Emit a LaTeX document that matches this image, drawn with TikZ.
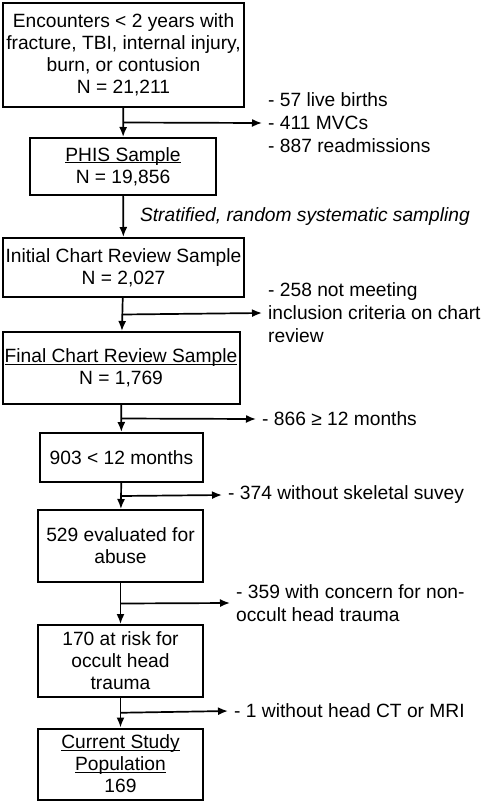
\documentclass[tikz,border=0pt]{standalone}
\usepackage{fontspec}
\setmainfont{Liberation Sans}
\usetikzlibrary{arrows.meta, calc, positioning}
\newcommand{\ulbl}[1]{\underline{\smash{#1}}\vphantom{#1}}

\tikzset{
  box/.style={draw, line width=2pt, align=center, inner sep=0pt, font=\fontsize{19.2}{22}\selectfont},
  note/.style={anchor=west, align=left, inner sep=0pt, font=\fontsize{19.2}{23}\selectfont},
  flow/.style={line width=1.7pt, -{Latex[length=10pt, width=8pt]}},
}

\begin{document}
\begin{tikzpicture}[x=1pt, y=-1pt]
                        \useasboundingbox (0, 0) rectangle (480, 801);
                        \node[box, minimum width=241pt, minimum height=104pt] (enc) at (123.5, 55) {Encounters < 2 years with\\fracture, TBI, internal injury,\\burn, or contusion\\N = 21,211};
                        \node[box, minimum width=186pt, minimum height=57pt] (phis) at (123, 166.5) {\ulbl{PHIS Sample}\\N = 19,856};
                        \node[box, minimum width=241pt, minimum height=59pt] (init) at (123.5, 267.5) {Initial Chart Review Sample\\N = 2,027};
                        \node[box, minimum width=237pt, minimum height=72pt] (final) at (121, 368) {\ulbl{Final Chart Review Sample}\\N = 1,769};
                        \node[box, minimum width=163pt, minimum height=49pt] (young) at (121.5, 457.5) {903 < 12 months};
                        \node[box, minimum width=165pt, minimum height=72pt] (eval) at (120.5, 546) {529 evaluated for\\abuse};
                        \node[box, minimum width=165pt, minimum height=72pt] (risk) at (120.5, 661) {170 at risk for\\occult head\\trauma};
                        \node[box, minimum width=165pt, minimum height=71pt] (study) at (120.5, 764) {\ulbl{Current Study}\\\ulbl{Population}\\169};
                        \coordinate (s1) at ($(enc.south)!0.5!(phis.north)$);
                        \coordinate (s2) at ($(init.south)!0.5!(final.north)$);
                        \coordinate (s3) at ($(final.south)!0.5!(young.north)$);
                        \coordinate (s4) at ($(young.south)!0.5!(eval.north)$);
                        \coordinate (s5) at ($(eval.south)!0.5!(risk.north)$);
                        \coordinate (s6) at ($(risk.south)!0.5!(study.north)$);
                        \node[note] (x1) at (268, 123) {- 57 live births\\- 411 MVCs\\- 887 readmissions};
                        \node[note] (x2) at (268, 313) {- 258 not meeting\\inclusion criteria on chart\\review};
                        \node[note] (x3) at (262, 419) {- 866 ≥ 12 months};
                        \node[note] (x4) at (228, 495) {- 374 without skeletal suvey};
                        \node[note] (x5) at (236, 603) {- 359 with concern for non-\\occult head trauma};
                        \node[note] (x6) at (234, 711) {- 1 without head CT or MRI};
                        \draw
                        (enc) edge[flow] (phis)
                        (phis) edge[flow] node[right=16pt, inner sep=0pt, font=\fontsize{19.2}{22}\selectfont\itshape] (samp) {Stratified, random systematic sampling} (init)
                        (init) edge[flow] (final)
                        (final) edge[flow] (young)
                        (young) edge[flow] (eval)
                        (eval) edge[flow] (risk)
                        (risk) edge[flow] (study)
                        (s1) edge[flow] ([xshift=-6pt]x1.west)
                        (s2) edge[flow] ([xshift=-6pt]x2.west)
                        (s3) edge[flow] ([xshift=-6pt]x3.west)
                        (s4) edge[flow] ([xshift=-6pt]x4.west)
                        (s5) edge[flow] ([xshift=-6pt]x5.west)
                        (s6) edge[flow] ([xshift=-6pt]x6.west);
                    \end{tikzpicture}
\end{document}
